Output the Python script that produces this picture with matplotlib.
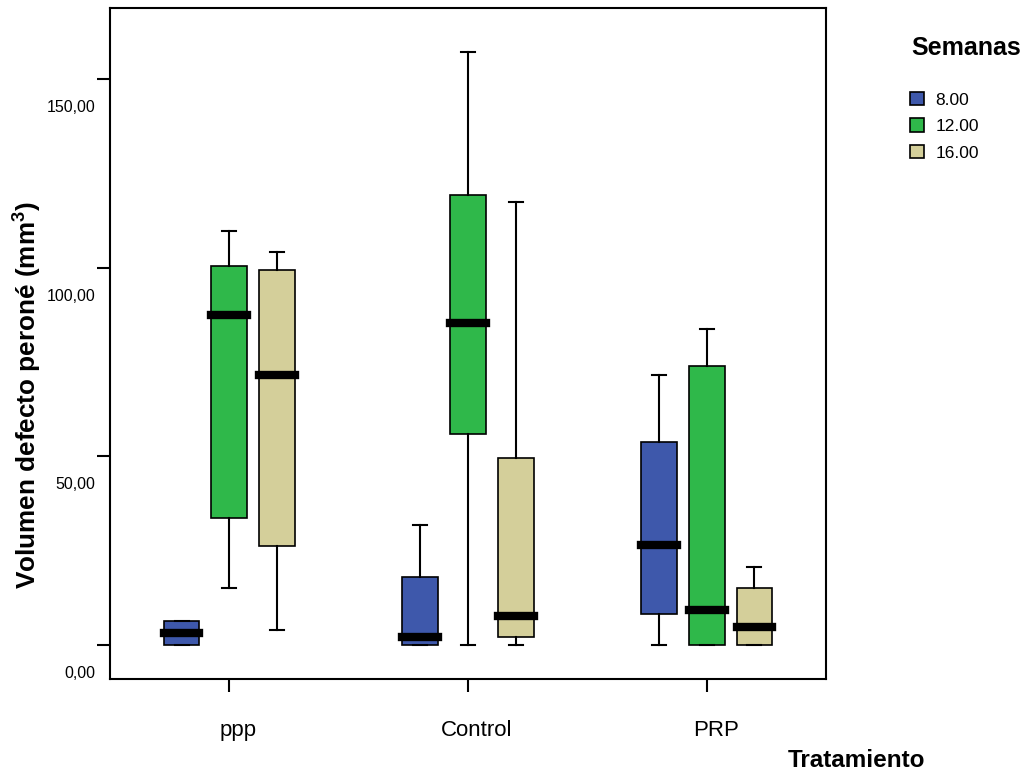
import matplotlib
matplotlib.use('Agg')
import matplotlib.pyplot as plt
import matplotlib.patches as mpatches
from matplotlib.transforms import ScaledTranslation

plt.rcParams['font.family'] = ['Liberation Sans', 'DejaVu Sans']
plt.rcParams['mathtext.fontset'] = 'custom'
plt.rcParams['mathtext.rm'] = 'Liberation Sans'
plt.rcParams['mathtext.bf'] = 'Liberation Sans:bold'

# Tratamiento groups and week series
groups = ['ppp', 'Control', 'PRP']
weeks = ['8.00', '12.00', '16.00']
colors = ['#3e58ab', '#2fb84a', '#d4cf9a']

# Box statistics, one row per week, one column per group
whislo = [[0.0, 0.0, 0.0],
          [15.0, 0.0, 0.0],
          [3.9, 0.0, 0.0]]
q1 = [[0.0, 0.0, 8.2],
      [33.7, 56.0, 0.0],
      [26.3, 2.0, 0.0]]
med = [[3.2, 2.0, 26.5],
       [87.5, 85.4, 9.3],
       [71.7, 7.6, 4.8]]
q3 = [[6.4, 18.0, 53.8],
      [100.5, 119.4, 74.1],
      [99.5, 49.7, 15.2]]
whishi = [[6.4, 31.9, 71.7],
          [109.7, 157.1, 83.9],
          [104.2, 117.4, 20.6]]

yticks = [0, 50, 100, 150]
ytick_labels = ['0,00', '50,00', '100,00', '150,00']

fig = plt.figure(figsize=(10.27, 7.76), dpi=100)
ax = fig.add_axes([0.1071, 0.1254, 0.6972, 0.8643])

offsets = [-0.2, 0.0, 0.2]
handles = []
for w in range(len(weeks)):
    stats = []
    for g in range(len(groups)):
        stats.append(dict(whislo=whislo[w][g], q1=q1[w][g], med=med[w][g],
                          q3=q3[w][g], whishi=whishi[w][g], fliers=[]))
    pos = [g + offsets[w] for g in range(len(groups))]
    ax.bxp(stats, positions=pos, widths=0.15, patch_artist=True,
           showfliers=False, capwidths=0.059,
           boxprops=dict(facecolor=colors[w], edgecolor='black', linewidth=1.2),
           whiskerprops=dict(color='black', linewidth=1.5),
           capprops=dict(color='black', linewidth=1.5),
           medianprops=dict(color='black', linewidth=6,
                            solid_capstyle='projecting'))
    handles.append(mpatches.Patch(facecolor=colors[w], edgecolor='black',
                                  linewidth=1.2, label=weeks[w]))

ax.set_xlim(-0.5, 2.5)
ax.set_ylim(-8.94, 168.9)

ax.set_xticks(range(len(groups)))
ax.set_xticklabels(groups, fontsize=16)
ax.set_yticks(yticks)
ax.set_yticklabels(ytick_labels, fontsize=11.5)
ax.tick_params(axis='both', direction='out', length=9.4, width=1.5, color='black')
ax.tick_params(axis='x', pad=20.5)
ax.tick_params(axis='y', pad=1)

for side in ['top', 'bottom', 'left', 'right']:
    ax.spines[side].set_linewidth(1.5)

# SPSS style: value labels sit below their tick, category labels a bit right
down = ScaledTranslation(0, -0.27, fig.dpi_scale_trans)
for label in ax.get_yticklabels():
    label.set_transform(label.get_transform() + down)
right = ScaledTranslation(0.09, 0, fig.dpi_scale_trans)
for label in ax.get_xticklabels():
    label.set_transform(label.get_transform() + right)

ax.set_ylabel(r'Volumen defecto peroné (mm$^{\mathbf{3}}$)', fontsize=18.8,
              fontweight='bold')
ax.yaxis.set_label_coords(-0.093, 0.423)
ax.set_xlabel('Tratamiento', fontsize=17.5, fontweight='bold')
ax.xaxis.set_label_coords(1.043, -0.105)

fig.text(911 / 1027, 1 - 48 / 776, 'Semanas', fontsize=18, fontweight='bold',
         ha='left', va='center')
fig.legend(handles=handles, loc='upper left',
           bbox_to_anchor=(910 / 1027, 1 - 92 / 776),
           frameon=False, fontsize=12.5, handlelength=0.8, handleheight=0.8,
           handletextpad=0.65, labelspacing=0.62, borderpad=0, borderaxespad=0)

fig.savefig('out.png', dpi=100)
